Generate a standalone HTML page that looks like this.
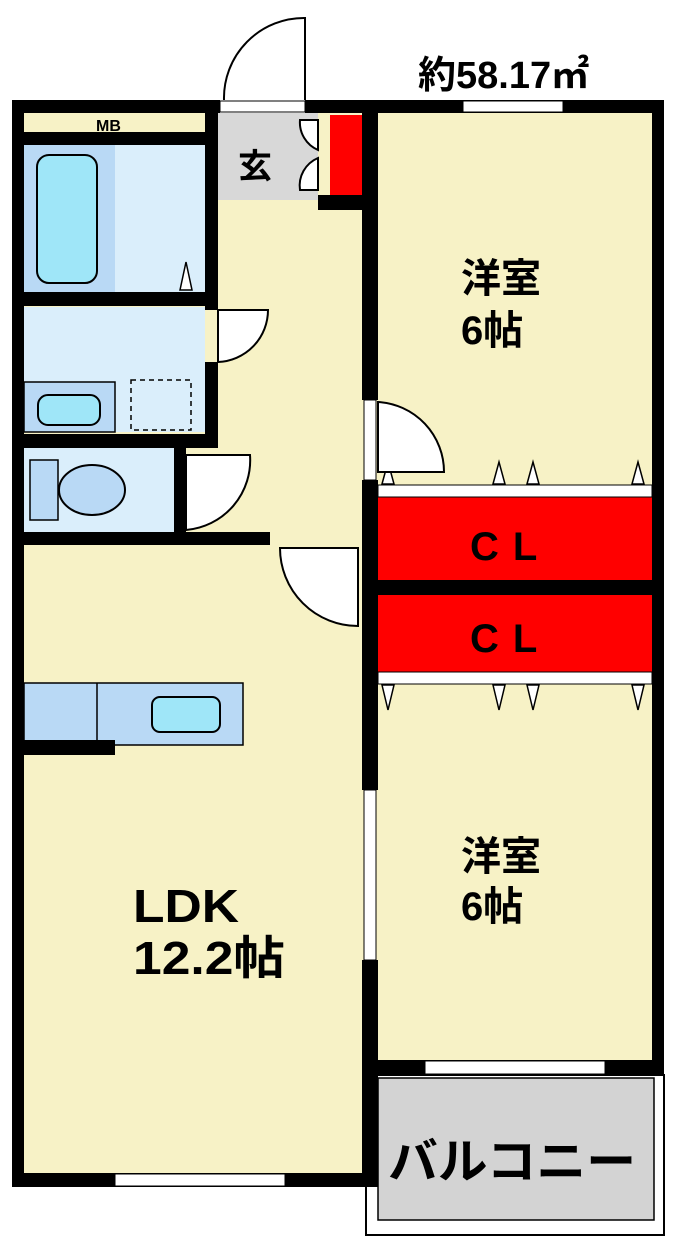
<!DOCTYPE html>
<html><head><meta charset="utf-8"><style>
html,body{margin:0;padding:0;background:#fff;}
svg{display:block}
text{font-family:"Liberation Sans","Noto Sans CJK JP",sans-serif;font-weight:bold;fill:#000}
</style></head><body>
<svg width="684" height="1258" viewBox="0 0 684 1258" xmlns="http://www.w3.org/2000/svg">
<!-- floors -->
<rect x="24" y="113" width="340" height="1060" fill="#f7f2c6"/>
<rect x="376" y="113" width="278" height="950" fill="#f7f2c6"/>
<rect x="24" y="118" width="181" height="14" fill="#f7f2c6"/>
<!-- bath -->
<rect x="24" y="145" width="91" height="148" fill="#b9d9f5"/>
<rect x="115" y="145" width="90" height="148" fill="#daeefb"/>
<rect x="37" y="155" width="60" height="128" rx="12" fill="#9fe6f8" stroke="#000" stroke-width="2"/>
<polygon points="180,290 186,262 192,290" fill="#fff" stroke="#000" stroke-width="1.5"/>
<!-- washroom -->
<rect x="24" y="307" width="181" height="125" fill="#daeefb"/>
<rect x="24" y="382" width="91" height="50" fill="#b9d9f5" stroke="#000" stroke-width="1.5"/>
<rect x="38" y="395" width="62" height="30" rx="10" fill="#9fe6f8" stroke="#000" stroke-width="2"/>
<rect x="131" y="380" width="60" height="50" fill="none" stroke="#000" stroke-width="1.5" stroke-dasharray="5,4"/>
<!-- toilet -->
<rect x="24" y="448" width="150" height="84" fill="#daeefb"/>
<rect x="30" y="460" width="28" height="60" fill="#b9d9f5" stroke="#000" stroke-width="1.5"/>
<ellipse cx="92" cy="490" rx="33" ry="25" fill="#b9d9f5" stroke="#000" stroke-width="2"/>
<!-- genkan -->
<rect x="218" y="113" width="100" height="87" fill="#d8d8d8"/>
<rect x="330" y="115" width="32" height="80" fill="#f00"/>
<!-- kitchen -->
<rect x="24" y="683" width="219" height="62" fill="#b9d9f5" stroke="#000" stroke-width="1.5"/>
<line x1="97" y1="683" x2="97" y2="745" stroke="#000" stroke-width="1.5"/>
<rect x="152" y="697" width="68" height="35" rx="8" fill="#9fe6f8" stroke="#000" stroke-width="2"/>
<!-- closets -->
<rect x="378" y="497" width="274" height="83" fill="#f00"/>
<rect x="378" y="595" width="274" height="77" fill="#f00"/>
<rect x="378" y="485" width="274" height="12" fill="#fff" stroke="#000" stroke-width="1"/>
<rect x="378" y="672" width="274" height="12" fill="#fff" stroke="#000" stroke-width="1"/>
<g stroke="#000" stroke-width="1.5" fill="#fff">
<polygon points="382,484 388,462 394,484"/><polygon points="493,484 499,462 505,484"/>
<polygon points="527,484 533,462 539,484"/><polygon points="632,484 638,462 644,484"/>
<polygon points="382,685 388,710 394,685"/><polygon points="493,685 499,710 505,685"/>
<polygon points="527,685 533,710 539,685"/><polygon points="632,685 638,710 644,685"/>
</g>
<!-- balcony -->
<rect x="366" y="1075" width="298" height="160" fill="#fff" stroke="#000" stroke-width="2"/>
<rect x="378" y="1078" width="276" height="142" fill="#d3d3d3" stroke="#000" stroke-width="1.5"/>
<!-- doors -->
<g fill="#fff" stroke="#000" stroke-width="2">
<path d="M305,100 L305,18 A80,80 0 0 0 224,100"/>
<path d="M218,310 L218,362 A52,52 0 0 0 268,310 Z"/>
<path d="M186,455 L186,530 A70,70 0 0 0 250,455 Z"/>
<path d="M358,548 L358,626 A78,78 0 0 1 280,548 Z"/>
<path d="M378,472 L378,402 A70,70 0 0 1 444,472 Z"/>
<path d="M318,120 L300,120 A30,30 0 0 0 318,150 Z"/>
<path d="M318,190 L300,190 A30,30 0 0 1 318,158 Z"/>
</g>
<!-- walls -->
<g fill="#000">
<rect x="12" y="100" width="208" height="13"/>
<rect x="305" y="100" width="359" height="13"/>
<rect x="12" y="100" width="12" height="1087"/>
<rect x="652" y="100" width="12" height="975"/>
<rect x="12" y="1173" width="366" height="14"/>
<rect x="24" y="132" width="194" height="13"/>
<rect x="205" y="100" width="13" height="210"/>
<rect x="205" y="362" width="13" height="86"/>
<rect x="24" y="292" width="181" height="14"/>
<rect x="24" y="434" width="194" height="14"/>
<rect x="12" y="532" width="258" height="13"/>
<rect x="174" y="448" width="12" height="84"/>
<rect x="318" y="195" width="60" height="15"/>
<rect x="362" y="100" width="16" height="300"/>
<rect x="362" y="480" width="16" height="310"/>
<rect x="362" y="960" width="16" height="227"/>
<rect x="376" y="580" width="288" height="15"/>
<rect x="24" y="740" width="91" height="15"/>
<rect x="366" y="1060" width="298" height="15"/>
</g>
<!-- windows -->
<g fill="#fff" stroke="#000" stroke-width="1">
<rect x="115" y="1174" width="170" height="12"/>
<rect x="425" y="1061" width="180" height="13"/>
<rect x="463" y="101" width="100" height="11"/>
<rect x="364" y="790" width="12" height="170"/>
<rect x="364" y="400" width="12" height="80"/>
<rect x="220" y="101" width="85" height="11"/>
</g>
<!-- text -->
<text x="418" y="88" font-size="38">約58.17㎡</text>
<text x="96" y="131" font-size="16">MB</text>
<text x="238" y="178" font-size="34">玄</text>
<text x="461" y="292" font-size="40">洋室</text>
<text x="461" y="344" font-size="40">6帖</text>
<text x="461" y="870" font-size="40">洋室</text>
<text x="461" y="920" font-size="40">6帖</text>
<text x="470" y="560" font-size="40" font-weight="normal" letter-spacing="14">CL</text>
<text x="470" y="652" font-size="40" font-weight="normal" letter-spacing="14">CL</text>
<text x="133" y="922" font-size="46" font-weight="normal" textLength="106" lengthAdjust="spacingAndGlyphs">LDK</text>
<text x="133" y="974" font-size="46" font-weight="normal" textLength="152" lengthAdjust="spacingAndGlyphs">12.2帖</text>
<text x="388" y="1178" font-size="48" textLength="248" lengthAdjust="spacingAndGlyphs">バルコニー</text>
</svg>
</body></html>
